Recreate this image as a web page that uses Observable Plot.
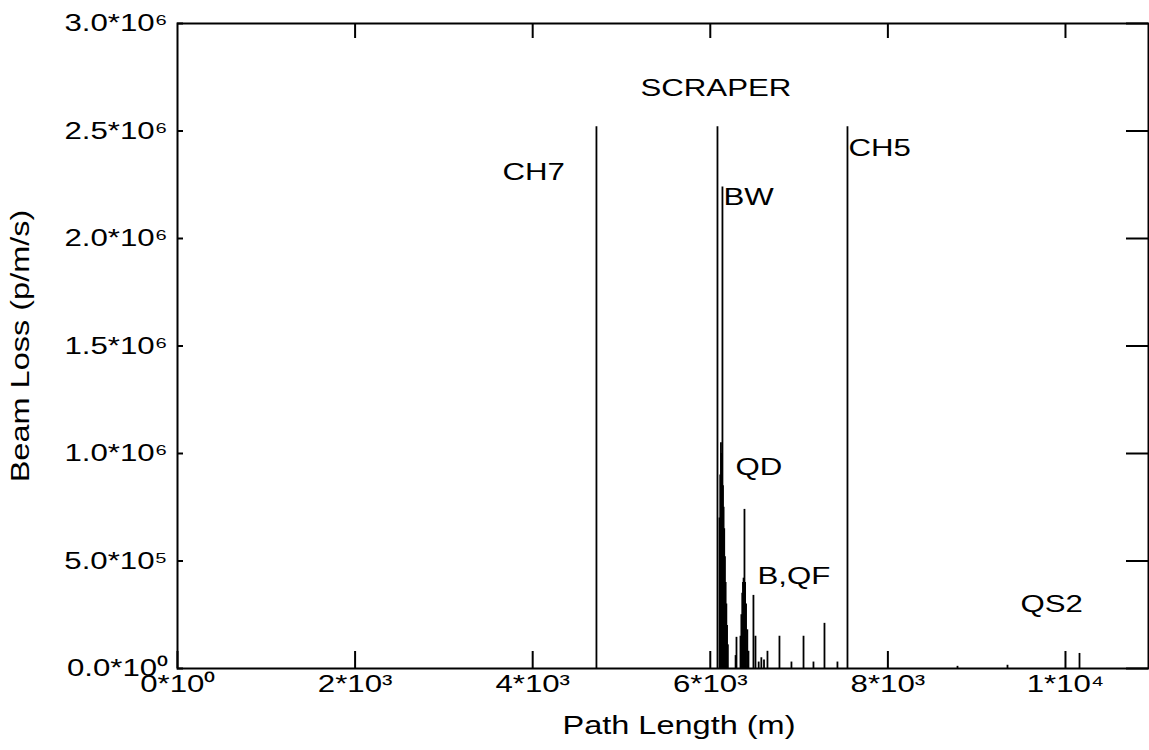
<!DOCTYPE html>
<html>
<head>
<meta charset="utf-8">
<script src="https://cdn.jsdelivr.net/npm/d3@7"></script>
<script src="https://cdn.jsdelivr.net/npm/@observablehq/plot@0.6"></script>
<style>
  html, body { margin: 0; padding: 0; background: #fff; }
</style>
</head>
<body>
<div id="chart"></div>
<script>
// Path length (m) of each loss spike
const spikeX = [4718, 6081,
  6104, 6112, 6120, 6127, 6132, 6137, 6143, 6150, 6157, 6165, 6173, 6181, 6189, 6198,
  6285, 6295,
  6340, 6350, 6360, 6368, 6375, 6385, 6392, 6403, 6417, 6430,
  6486, 6509, 6545, 6575, 6605, 6644,
  6779, 6914, 7050, 7162, 7286, 7432, 7545,
  8784, 9347, 10158];
// Beam loss (p/m/s) of each spike
const spikeY = [2520000, 2520000,
  700000, 900000, 1050000, 1000000, 950000, 2240000, 850000, 750000, 650000, 520000, 400000, 300000, 200000, 110000,
  60000, 145000,
  150000, 250000, 350000, 400000, 420000, 740000, 400000, 300000, 180000, 80000,
  340000, 150000, 30000, 50000, 40000, 80000,
  150000, 30000, 150000, 30000, 210000, 30000, 2520000,
  10000, 15000, 70000];

const xTicks = [0, 2000, 4000, 6000, 8000, 10000];
const xTickLabels = ["0*10⁰", "2*10³", "4*10³", "6*10³", "8*10³", "1*10⁴"];
const yTicks = [0, 500000, 1000000, 1500000, 2000000, 2500000, 3000000];
const yTickLabels = ["0.0*10⁰", "5.0*10⁵", "1.0*10⁶", "1.5*10⁶", "2.0*10⁶", "2.5*10⁶", "3.0*10⁶"];

// annotation labels and the data point they start at
const noteText = ["SCRAPER", "CH7", "BW", "CH5", "QD", "B,QF", "QS2"];
const noteX = [5214, 3660, 6149, 7556, 6284, 6532, 9493];
const noteY = [2700000, 2310000, 2190000, 2420000, 935000, 430000, 300000];

const xTitle = "Path Length (m)";
const yTitle = "Beam Loss (p/m/s)";

const spikes = spikeX.map((x, i) => ({x, y: spikeY[i]}));
const notes = noteText.map((t, i) => ({t, x: noteX[i], y: noteY[i]}));

const W = 1149, H = 750, mL = 177, mR = 1, mT = 23, mB = 82;
const innerW = W - mL - mR, innerH = H - mT - mB;
const font = "'Liberation Sans', Arial, Helvetica, sans-serif";

const chart = Plot.plot({
  width: W, height: H,
  marginLeft: mL, marginRight: mR, marginTop: mT, marginBottom: mB,
  style: {fontFamily: font, background: "#fff", color: "#000"},
  x: {domain: [0, 10935], axis: null},
  y: {domain: [0, 3000000], axis: null},
  marks: [
    Plot.frame({stroke: "#000", strokeWidth: 2}),
    // inward ticks: bottom, top, left, right
    Plot.ruleX(xTicks, {x: d => d, insetTop: innerH - 17, stroke: "#000", strokeWidth: 2}),
    Plot.ruleX(xTicks.slice(1), {x: d => d, insetBottom: innerH - 15, stroke: "#000", strokeWidth: 2}),
    Plot.ruleY(yTicks, {y: d => d, insetRight: innerW - 6, stroke: "#000", strokeWidth: 2}),
    Plot.ruleY(yTicks, {y: d => d, insetLeft: innerW - 22, stroke: "#000", strokeWidth: 2}),
    Plot.ruleX(spikes, {x: "x", y1: 0, y2: "y", stroke: "#000", strokeWidth: 1.8}),
    Plot.axisX({ticks: xTicks, tickFormat: d => xTickLabels[xTicks.indexOf(d)], tickSize: 0, tickPadding: 6, fontSize: 24, label: null}),
    Plot.axisY({ticks: yTicks, tickFormat: d => yTickLabels[yTicks.indexOf(d)], tickSize: 0, tickPadding: 10, fontSize: 24, label: null}),
    Plot.text([xTitle], {frameAnchor: "bottom", textAnchor: "middle", dx: 16, dy: 65, fontSize: 25, fill: "#000"}),
    Plot.text([yTitle], {frameAnchor: "left", textAnchor: "middle", dx: -157, rotate: -90, fontSize: 25, fill: "#000"}),
    Plot.text(notes, {x: "x", y: "y", text: "t", textAnchor: "start", fontSize: 24, fill: "#000"})
  ]
});

document.getElementById("chart").appendChild(chart);
// the reference uses a wide (extended) typeface: stretch glyphs along the line
chart.querySelectorAll("text").forEach(el => {
  const len = el.getComputedTextLength();
  if (len > 0) {
    el.setAttribute("textLength", (len * 1.3).toFixed(1));
    el.setAttribute("lengthAdjust", "spacingAndGlyphs");
  }
});
</script>
</body>
</html>
